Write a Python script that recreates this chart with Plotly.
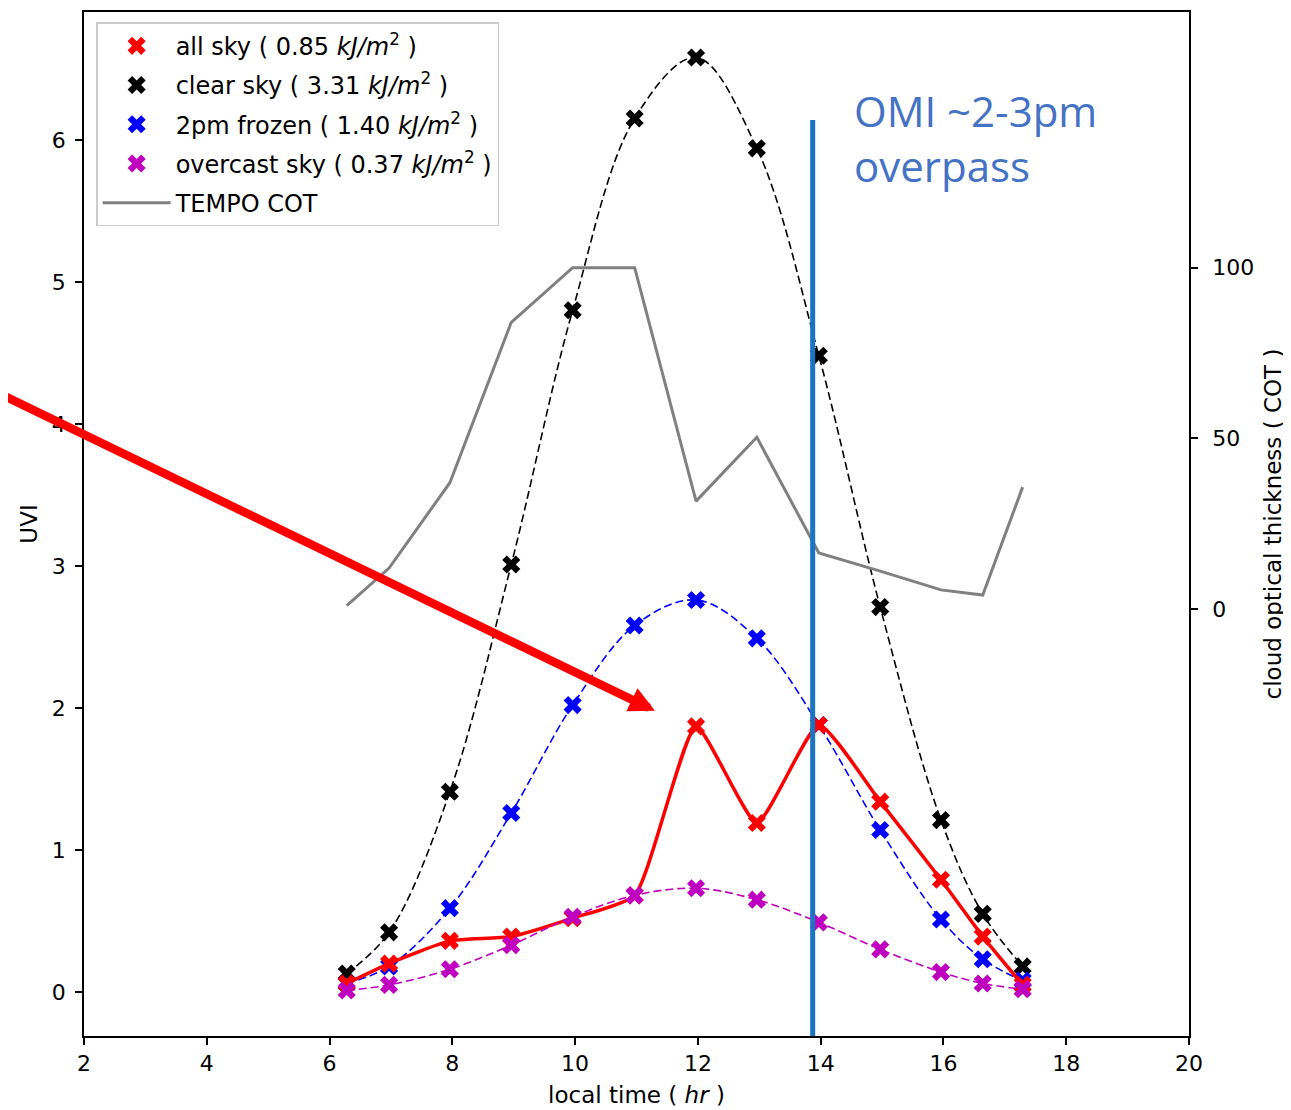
import plotly.graph_objects as go

# ---------------- data ----------------
hours = [6.28, 6.97, 7.96, 8.96, 9.96, 10.97, 11.97, 12.96, 13.97, 14.97, 15.96, 16.64, 17.29]
uvi_all = [0.06, 0.20, 0.36, 0.39, 0.52, 0.68, 1.87, 1.19, 1.88, 1.34, 0.79, 0.39, 0.05]
uvi_clear = [0.13, 0.42, 1.41, 3.01, 4.80, 6.15, 6.58, 5.94, 4.48, 2.71, 1.21, 0.55, 0.18]
uvi_frozen = [0.06, 0.18, 0.59, 1.26, 2.02, 2.58, 2.76, 2.49, 1.88, 1.14, 0.51, 0.23, 0.08]
uvi_overcast = [0.01, 0.05, 0.16, 0.33, 0.53, 0.68, 0.73, 0.65, 0.49, 0.30, 0.14, 0.06, 0.02]
tempo_cot = [1, 12, 37, 84, 100, 100, 31.6, 50.3, 16.4, 11.1, 5.6, 4.1, 35.7]

series_names = ["all sky", "clear sky", "2pm frozen", "overcast sky"]
series_doses = [0.85, 3.31, 1.40, 0.37]

omi_x = 13.87
omi_top = 6.14
arrow_tail = (0.3, 4.28)
arrow_head = (11.30, 1.98)

x_ticks = [2, 4, 6, 8, 10, 12, 14, 16, 18, 20]
y_ticks = [0, 1, 2, 3, 4, 5, 6]
y2_ticks = [0, 50, 100]

FONT = "DejaVu Sans"
RED, BLACK, BLUE, MAG, GRAY = "#ff0000", "#000000", "#0000ff", "#bf00bf", "#808080"

fig = go.Figure()

def label(name, dose):
    return f"{name} ( {dose:.2f} <i>kJ/m</i><sup>2</sup> )"

styles = [
    (uvi_all, RED, "solid", 3.5, 0.5),
    (uvi_clear, BLACK, "8px,4px", 1.6, 1.0),
    (uvi_frozen, BLUE, "8px,4px", 1.6, 1.0),
    (uvi_overcast, MAG, "8px,4px", 1.6, 1.0),
]
# drawing order: clear, frozen, all sky, overcast
draw_order = [1, 2, 0, 3]
for i in draw_order:
    vals, col, dash, w, sm = styles[i]
    fig.add_trace(go.Scatter(
        x=hours, y=vals, mode="lines+markers",
        line=dict(color=col, dash=dash, width=w, shape="spline", smoothing=sm),
        marker=dict(symbol="x", size=16, color=col, line=dict(width=0)),
        showlegend=False, yaxis="y", hoverinfo="skip"))

# legend-only entries
for i in range(4):
    vals, col, dash, w, sm = styles[i]
    fig.add_trace(go.Scatter(
        x=[None], y=[None], mode="markers",
        marker=dict(symbol="x", size=16, color=col, line=dict(width=0)),
        name=label(series_names[i], series_doses[i]),
        legendgroup=f"g{i}", legendrank=i + 1, yaxis="y"))

fig.add_trace(go.Scatter(
    x=hours, y=tempo_cot, mode="lines",
    line=dict(color=GRAY, width=3),
    name="TEMPO COT", legendgroup="g5", legendrank=5, yaxis="y2"))

# OMI overpass line
fig.add_shape(type="line", xref="x", yref="y", x0=omi_x, x1=omi_x, y0=-1, y1=omi_top,
              line=dict(color="#1a74c0", width=5), layer="above")

fig.add_annotation(
    xref="paper", yref="paper", x=0.695, y=0.934, xanchor="left", yanchor="top",
    text="OMI ~2-3pm<br>overpass", showarrow=False, align="left",
    font=dict(family="Open Sans", size=42, color="#4472c4"))

fig.add_annotation(
    xref="x", yref="y", axref="x", ayref="y",
    x=arrow_head[0], y=arrow_head[1], ax=arrow_tail[0], ay=arrow_tail[1],
    text="", showarrow=True, arrowhead=2, arrowsize=0.6, arrowwidth=8.5, arrowcolor=RED)

axis_common = dict(
    showline=True, linecolor="black", linewidth=1.5, ticks="outside", ticklen=7,
    tickwidth=1.5, tickcolor="black", showgrid=False, zeroline=False,
    tickfont=dict(family=FONT, size=22, color="black"))

fig.update_layout(
    width=1291, height=1110,
    margin=dict(l=76, r=110, t=2, b=82),
    paper_bgcolor="white", plot_bgcolor="white",
    font=dict(family=FONT, size=22, color="black"),
    xaxis=dict(range=[2, 20], tickvals=x_ticks, mirror=True,
               title=dict(text="local time ( <i>hr</i> )", font=dict(size=23), standoff=12),
               **axis_common),
    yaxis=dict(range=[-0.31, 6.90], tickvals=y_ticks, ticklabelstandoff=5,
               title=dict(text="UVI", font=dict(size=23), standoff=8),
               **axis_common),
    yaxis2=dict(range=[-125.1, 174.9], tickvals=y2_ticks, overlaying="y", side="right",
                ticklabelstandoff=10,
                title=dict(text="cloud optical thickness ( COT )", font=dict(size=23), standoff=12),
                **axis_common),
    legend=dict(x=0.011, y=0.99, xanchor="left", yanchor="top",
                bgcolor="rgba(255,255,255,0.85)", bordercolor="#cccccc", borderwidth=1.5,
                font=dict(family=FONT, size=24), traceorder="grouped", tracegroupgap=5,
                itemwidth=68),
    showlegend=True,
)

fig.write_html("out.html")
